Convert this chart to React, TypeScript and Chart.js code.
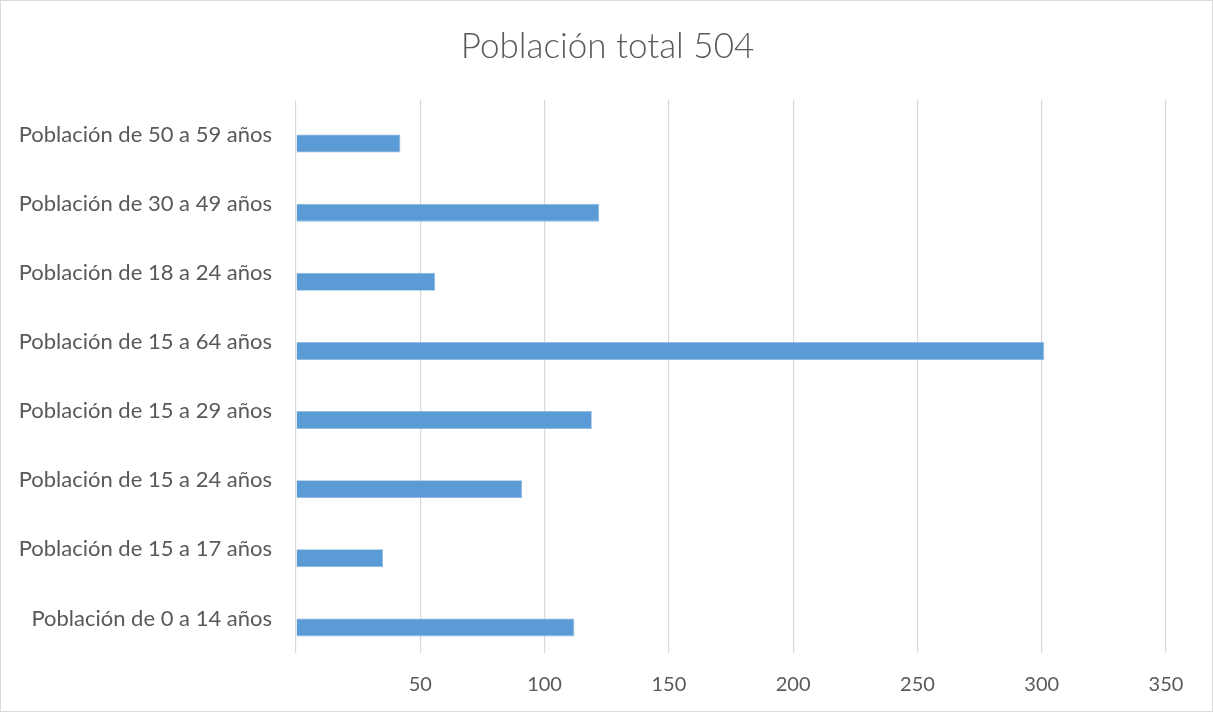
import React, { useEffect, useRef } from "react";
import { Chart, registerables } from "chart.js";

Chart.register(...registerables);

const titleText = "Población total 504";
// top to bottom as shown
const categories = [
  "Población de 50 a 59 años",
  "Población de 30 a 49 años",
  "Población de 18 a 24 años",
  "Población de 15 a 64 años",
  "Población de 15 a 29 años",
  "Población de 15 a 24 años",
  "Población de 15 a 17 años",
  "Población de 0 a 14 años",
];
const poblacion = [42, 122, 56, 301, 119, 91, 35, 112];
const emptySeries = [null, null, null, null, null, null, null, null];
const xMin = 0;
const xMax = 350;
const xStep = 50;

const centeredTitle = {
  id: "centeredTitle",
  afterDraw(chart: any) {
    const c = chart.ctx;
    c.save();
    c.font = "300 35px Lato";
    c.fillStyle = "#595959";
    c.textAlign = "center";
    c.textBaseline = "middle";
    c.fillText(titleText, chart.width / 2 + 1, 46);
    c.restore();
  },
};

export default function App() {
  const ref = useRef<HTMLCanvasElement>(null);
  useEffect(() => {
    document.body.style.margin = "0";
    const ctx = ref.current!;
    const chart = new Chart(ctx, {
      type: "bar",
      data: {
        labels: categories,
        datasets: [
          {
            label: "",
            data: emptySeries as any,
            backgroundColor: "#5B9BD5",
          },
          {
            label: "Población",
            data: poblacion,
            backgroundColor: "#5B9BD5",
            borderColor: "#8DB8E2",
            borderWidth: 0.8,
          },
        ],
      },
      options: {
        indexAxis: "y",
        animation: false,
        responsive: false,
        maintainAspectRatio: false,
        datasets: {
          bar: { categoryPercentage: 0.52, barPercentage: 1 },
        },
        layout: { padding: { left: 0, right: 46, top: 99, bottom: 14 } },
        plugins: {
          legend: { display: false },
          tooltip: { enabled: false },
          title: { display: false },
        },
        scales: {
          x: {
            type: "linear",
            position: "bottom",
            min: xMin,
            max: xMax,
            ticks: {
              stepSize: xStep,
              color: "#595959",
              font: { family: "Lato", size: 20 },
              padding: 20,
              callback: (v: any) => (Number(v) === 0 ? "" : String(v)),
              maxRotation: 0,
            },
            grid: { color: "#D9D9D9", lineWidth: 1.2, drawTicks: false },
            border: { display: false },
            afterFit: (scale: any) => {
              scale.height = 44;
            },
          },
          y: {
            type: "category",
            ticks: {
              color: "#595959",
              font: { family: "Lato", size: 22 },
              padding: 24,
            },
            grid: { display: false, drawTicks: false },
            border: { display: false },
            afterFit: (scale: any) => {
              scale.width = 295;
            },
          },
        },
      },
      plugins: [centeredTitle],
    });
    return () => chart.destroy();
  }, []);
  return (
    <div
      style={{
        position: "fixed",
        left: 0,
        top: 0,
        width: 1213,
        height: 712,
        boxSizing: "border-box",
        border: "1px solid #D9D9D9",
        background: "#fff",
      }}
    >
      <canvas ref={ref} width={1211} height={710} style={{ display: "block" }} />
    </div>
  );
}
